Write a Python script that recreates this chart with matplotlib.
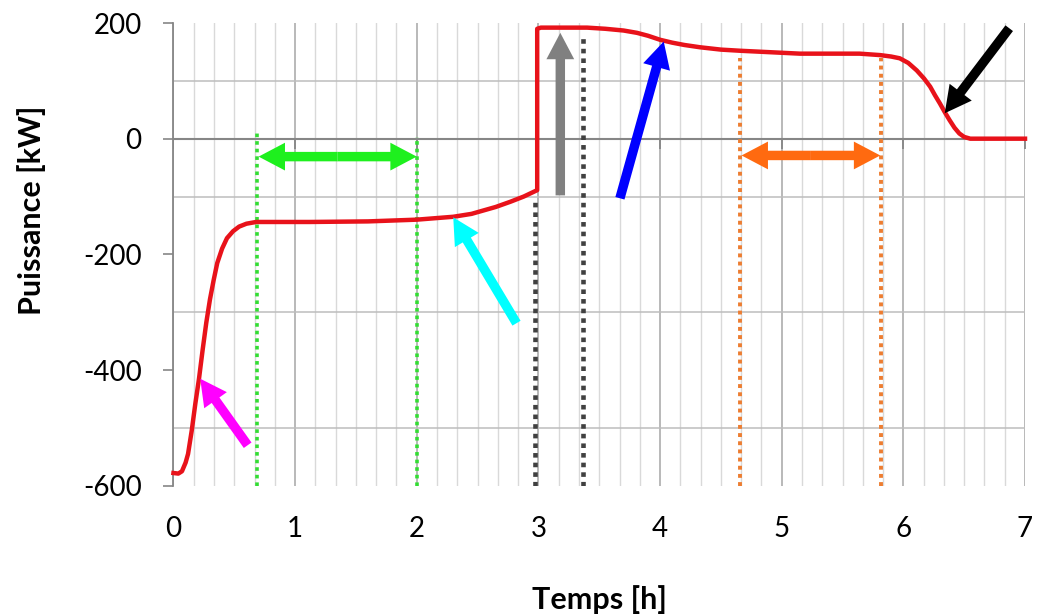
import numpy as np
import matplotlib
matplotlib.use("Agg")
import matplotlib.pyplot as plt
from matplotlib.patches import FancyArrowPatch

plt.rcParams["font.family"] = ["Lato", "DejaVu Sans"]

# ── power profile (hours, kW) ────────────────────────────────────────────
temps = [0.00, 0.04, 0.07, 0.10, 0.12, 0.15, 0.18, 0.21, 0.24, 0.27, 0.30,
         0.33, 0.36, 0.40, 0.44, 0.49, 0.54, 0.60, 0.68, 1.12, 1.60, 2.00,
         2.30, 2.45, 2.55, 2.65, 2.77, 2.88, 2.99, 2.99, 3.02, 3.40, 3.55,
         3.70, 3.81, 3.90, 4.00, 4.10, 4.20, 4.33, 4.50, 4.66, 5.15, 5.64,
         5.81, 5.90, 5.97, 6.04, 6.11, 6.17, 6.22, 6.26, 6.30, 6.34, 6.38,
         6.42, 6.46, 6.50, 6.55, 7.00]
puissance = [-578, -579, -575, -560, -545, -505, -458, -415, -365, -318, -278,
             -245, -215, -190, -172, -160, -152, -147, -144, -144, -143, -140,
             -135, -130, -124, -118, -109, -100, -89, 190, 192, 192, 190,
             187, 183, 178, 171, 166, 162, 158, 154, 152, 147, 147,
             144.5, 142, 139, 131, 118, 104, 90, 75, 61, 46, 32,
             19, 9, 3, 0, 0]

# vertical dotted markers: x position, top value
green_x = [0.69, 2.0]
green_top = [9, 3]
gray_x = [2.97, 3.37]
gray_top = [-106, 179]
orange_x = [4.66, 5.82]
orange_top = [139, 139]

# single arrows: (x_tail, y_tail, x_tip, y_tip, colour)
arrows = [
    (0.61, -530, 0.22, -415, "#FF00FF"),
    (2.82, -319, 2.30, -136, "#00FFFF"),
    (3.18, -98, 3.18, 183, "#808080"),
    (3.67, -103, 4.03, 168, "#0000FF"),
    (6.87, 191, 6.34, 44, "#000000"),
]
# double arrows: (x_left, x_right, y, colour)
double_arrows = [
    (0.70, 2.00, -31, "#1EF01E"),
    (4.67, 5.81, -29, "#FF6A10"),
]

x_ticks = np.arange(0, 8)
y_ticks = np.arange(-600, 201, 200)

fig = plt.figure(figsize=(10.38, 6.15), dpi=100)
ax = fig.add_axes([0.1671, 0.2102, 0.8204, 0.7524])
ax.set_xlim(0, 7)
ax.set_ylim(-600, 200)

# ── grid ────────────────────────────────────────────────────────────────
ax.set_xticks(x_ticks)
ax.set_xticks(np.arange(0, 7.01, 1 / 6), minor=True)
ax.set_yticks(y_ticks)
ax.set_yticks(np.arange(-600, 201, 100), minor=True)
ax.grid(which="minor", axis="x", color="#D9D9D9", lw=1.0, zorder=0)
ax.grid(which="major", axis="x", color="#A6A6A6", lw=1.1, zorder=0)
ax.grid(which="minor", axis="y", color="#BDBDBD", lw=1.1, zorder=0)
ax.set_axisbelow(True)

for side in ["top", "right", "bottom"]:
    ax.spines[side].set_visible(False)
ax.spines["left"].set_color("#868686")
ax.spines["left"].set_linewidth(1.3)

ax.tick_params(axis="x", which="both", length=0, pad=22, labelsize=20)
ax.tick_params(axis="y", which="major", length=7, width=1.2, color="#868686",
               pad=16, labelsize=20)
ax.tick_params(axis="y", which="minor", length=0)
ax.set_yticklabels([f"{v:d}" for v in y_ticks])

# zero axis line with tick marks below it
ax.axhline(0, color="#868686", lw=1.5, zorder=1)
ax.plot(x_ticks, np.zeros(len(x_ticks)), ls="none", marker=3, ms=7, mew=1.3,
        color="#868686", zorder=1)

# ── dotted verticals ─────────────────────────────────────────────────────
ax.vlines(green_x, -600, green_top, colors="#33DD33", lw=2.6,
          linestyles=(0, (1, 1.1)), zorder=2)
ax.vlines(gray_x, -600, gray_top, colors="#404040", lw=3.3,
          linestyles=(0, (1, 1.1)), zorder=2)
ax.vlines(orange_x, -600, orange_top, colors="#ED7D31", lw=2.8,
          linestyles=(0, (1, 1.1)), zorder=2)

# ── power curve ─────────────────────────────────────────────────────────
ax.plot(temps, puissance, color="#E8121A", lw=3.2, zorder=3,
        solid_joinstyle="round", clip_on=False)


def draw_arrow(x0, y0, x1, y1, color):
    arr = FancyArrowPatch(
        (x0, y0), (x1, y1),
        arrowstyle="simple,head_length=0.95,head_width=1.0,tail_width=0.34",
        mutation_scale=20, color=color, lw=0, shrinkA=0, shrinkB=0,
        zorder=4, clip_on=False,
    )
    ax.add_patch(arr)


for x0, y0, x1, y1, c in arrows:
    draw_arrow(x0, y0, x1, y1, c)

for xl, xr, y, c in double_arrows:
    xm = (xl + xr) / 2
    draw_arrow(xm, y, xl, y, c)
    draw_arrow(xm, y, xr, y, c)

fig.text(599 / 1038, 1 - 600 / 615, "Temps [h]", fontsize=22, fontweight="bold",
         ha="center", va="center")
fig.text(32 / 1038, 1 - 210 / 615, "Puissance [kW]", fontsize=22,
         fontweight="bold", rotation=90, ha="center", va="center")

fig.savefig("out.png", dpi=100)
